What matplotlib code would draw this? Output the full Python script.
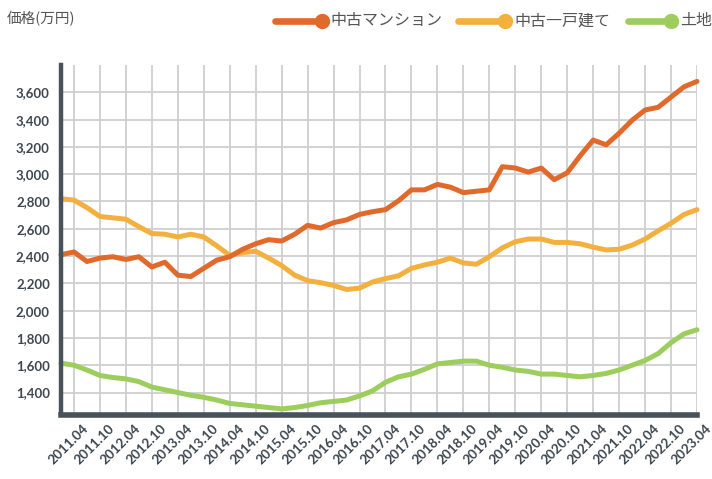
import matplotlib
matplotlib.use("Agg")
import matplotlib.pyplot as plt
import matplotlib.transforms as mtransforms
from matplotlib.lines import Line2D
import numpy as np

# quarterly data, 2011.01 .. 2023.04
mansion = [2410, 2430, 2360, 2385, 2395, 2375, 2395, 2320, 2355, 2260,
           2250, 2310, 2370, 2395, 2450, 2490, 2520, 2510, 2560, 2625,
           2605, 2645, 2665, 2705, 2725, 2740, 2805, 2885, 2885, 2925,
           2905, 2865, 2875, 2885, 3055, 3045, 3015, 3045, 2960, 3010,
           3135, 3250, 3215, 3300, 3395, 3470, 3490, 3565, 3640, 3680]
house = [2820, 2810, 2755, 2690, 2680, 2670, 2615, 2565, 2560, 2540,
         2560, 2540, 2475, 2405, 2425, 2435, 2385, 2330, 2260, 2220,
         2205, 2185, 2155, 2165, 2210, 2235, 2255, 2310, 2335, 2355,
         2385, 2350, 2340, 2395, 2460, 2505, 2525, 2525, 2500, 2500,
         2490, 2465, 2445, 2450, 2480, 2525, 2585, 2640, 2705, 2740]
land = [1615, 1600, 1565, 1525, 1510, 1500, 1480, 1440, 1420, 1400,
        1380, 1365, 1345, 1320, 1310, 1300, 1290, 1280, 1290, 1305,
        1325, 1335, 1345, 1375, 1412, 1475, 1515, 1535, 1570, 1610,
        1620, 1630, 1630, 1600, 1585, 1565, 1555, 1535, 1535, 1525,
        1515, 1525, 1540, 1565, 1600, 1635, 1685, 1765, 1830, 1860]
series_names = ["中古マンション", "中古一戸建て", "土地"]
tick_labels = [f"{y}.{m}" for y in range(2011, 2024) for m in ("04", "10")][:-1]
y_ticks = list(range(1400, 3601, 200))

colors = ["#e1692b", "#f4b03e", "#9dcd5c"]
txt_color = "#3d4750"

plt.rcParams['font.family'] = ['Lato', 'Noto Sans CJK JP', 'DejaVu Sans']

fig = plt.figure(figsize=(7.12, 4.79), dpi=100)
ax = fig.add_axes([61/712, 1-413/479, (697-61)/712, (413-65)/479])

x = np.arange(len(mansion))
for vals, c, z in zip([land, house, mansion], colors[::-1], [3, 4, 5]):
    ax.plot(x, vals, color=c, lw=3.6, solid_joinstyle='round',
            solid_capstyle='round', zorder=z, clip_on=False)

ax.set_xlim(0, len(mansion) - 1)
ax.set_ylim(1250, 3800)
xt = np.arange(1, len(mansion), 2)
ax.set_xticks(xt)
ax.set_xticklabels([])
trans = mtransforms.blended_transform_factory(ax.transData, ax.transAxes)
offset = mtransforms.ScaledTranslation(8/100, -9/100, fig.dpi_scale_trans)
for xi, lab in zip(xt, tick_labels):
    ax.text(xi, 0, lab, transform=trans + offset, rotation=45, ha='right',
            va='top', rotation_mode='anchor', fontsize=9.7, fontweight='bold',
            color=txt_color, clip_on=False)
ax.set_yticks(y_ticks)
ax.set_yticklabels([f"{v:,}" for v in y_ticks], fontsize=9.5,
                   fontweight='bold', color=txt_color)
ax.tick_params(axis='both', length=0)
ax.tick_params(axis='y', pad=8)

ax.grid(True, color="#cfcfcf", lw=1.3, zorder=0)
ax.set_axisbelow(True)
for s in ("top", "right"):
    ax.spines[s].set_visible(False)
ax.spines['left'].set_color("#48525a")
ax.spines['left'].set_linewidth(3.2)
ax.spines['bottom'].set_color("#48525a")
ax.spines['bottom'].set_linewidth(4.0)
ax.spines['bottom'].set_position(('outward', 1.5))
ax.spines['left'].set_zorder(6)
ax.spines['bottom'].set_zorder(6)

fig.text(7/712, 1-19/479, "価格(万円)", fontsize=10.5, color="#555555",
         ha='left', va='center', family=['Noto Sans CJK JP', 'DejaVu Sans'])

# legend
ly = 1 - 21/479
leg = [(275, 322, 330), (458, 505, 514), (628, 671, 680)]
for (x0, x1, tx), c, name in zip(leg, colors, series_names):
    fig.add_artist(Line2D([x0/712, x1/712], [ly, ly], color=c, lw=4.8,
                          solid_capstyle='round', transform=fig.transFigure))
    fig.add_artist(Line2D([x1/712], [ly], marker='o', markersize=10,
                          color=c, transform=fig.transFigure))
    fig.text(tx/712, ly, name, fontsize=11.5, color="#555555", ha='left',
             va='center', family=['Noto Sans CJK JP', 'DejaVu Sans'])

fig.savefig("out.png", dpi=100)
